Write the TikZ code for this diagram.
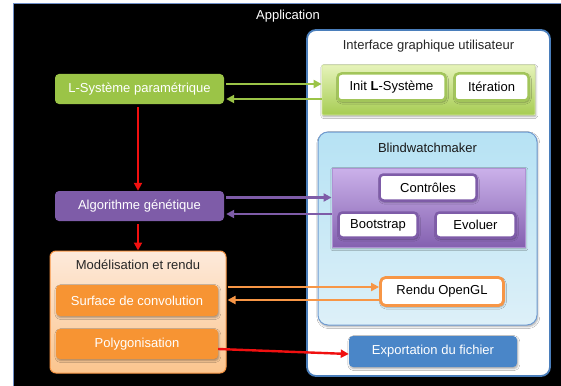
\documentclass[tikz,border=0pt]{standalone}
\usepackage{fontspec}
\setmainfont{Liberation Sans}
\usetikzlibrary{arrows.meta,shadows.blur}

\definecolor{frameblue}{HTML}{4A7EBB}
\definecolor{bgedge}{HTML}{6F8FC8}
\definecolor{titledark}{HTML}{262626}
\definecolor{lgreen}{HTML}{9BC447}
\definecolor{greentop}{HTML}{E6F3BA}
\definecolor{greenbot}{HTML}{A6CC52}
\definecolor{greenedge}{HTML}{A2C55A}
\definecolor{lpurple}{HTML}{7E5CA8}
\definecolor{purpletop}{HTML}{CBB1EA}
\definecolor{purplebot}{HTML}{8461B0}
\definecolor{bluetop}{HTML}{B6E2F4}
\definecolor{bluebot}{HTML}{DDF0F8}
\definecolor{blueedge}{HTML}{6F9BD1}
\definecolor{lorange}{HTML}{F79433}
\definecolor{orangetop}{HTML}{FDEADB}
\definecolor{orangebot}{HTML}{FBC58E}
\definecolor{orangeedge}{HTML}{F79646}
\definecolor{exportblue}{HTML}{4A86C8}
\definecolor{redline}{HTML}{F01010}

\begin{document}
\begin{tikzpicture}[x=1pt,y=-1pt,
  font=\fontsize{13}{15}\selectfont,
  softshadow/.style={blur shadow={shadow xshift=0.8pt,shadow yshift=-1.6pt,
      shadow blur radius=2pt,shadow opacity=35}},
  basebox/.style={rounded corners=4pt,inner sep=0pt,anchor=center},
  solidbox/.style={basebox,fill=#1,text=white,softshadow},
  whitebox/.style={basebox,fill=white,draw=#1,line width=2.5pt,text=black,softshadow},
  group/.style={inner sep=0pt,anchor=center},
  title/.style={inner sep=0pt,text=titledark},
  conn/.style={line width=2.4pt,draw=#1,-{Triangle[length=8pt,width=8pt]}},
]
\useasboundingbox (0,0) rectangle (561,385);

% backdrop of the application
\fill[white] (0,0) rectangle (561,385);
\draw[fill=black,draw=bgedge,line width=1pt] (13.5,3.5) rectangle (566,390);
\node[inner sep=0pt,text=white] (apptitle) at (288,16) {Application};

% user interface panel
\node[group,minimum width=243pt,minimum height=346pt,fill=white,draw=frameblue,
      line width=1.8pt,rounded corners=9pt] (gui) at (428.5,203) {};
\node[title] (guititle) at (428.5,46) {Interface graphique utilisateur};

% L-system controls
\node[group,minimum width=213pt,minimum height=50pt,top color=greentop,
      bottom color=greenbot,draw=greentop!70!greenbot,line width=0.8pt,
      rounded corners=1pt,softshadow] (greenbox) at (428.5,90) {};
\node[whitebox=greenedge,minimum width=108pt,minimum height=27pt] (init) at (391.5,87) {Init \textbf{L}-Système};
\node[whitebox=greenedge,minimum width=74pt,minimum height=27pt] (iter) at (491.5,87) {Itération};

% Blindwatchmaker
\node[group,minimum width=219pt,minimum height=193pt,top color=bluetop,
      bottom color=bluebot,draw=blueedge,line width=1pt,rounded corners=10pt,
      softshadow] (blind) at (427.5,228.5) {};
\node[title,text=black!90] (blindtitle) at (427.5,148) {Blindwatchmaker};
\node[group,minimum width=193pt,minimum height=79pt,top color=purpletop,
      bottom color=purplebot,draw=purpletop!60!purplebot,line width=0.8pt,
      softshadow] (purplebox) at (428.5,207.5) {};
\node[whitebox=lpurple,minimum width=97pt,minimum height=26pt] (ctrl) at (428,187.5) {Contrôles};
\node[whitebox=lpurple,minimum width=79pt,minimum height=25pt] (boot) at (378,225) {Bootstrap};
\node[whitebox=lpurple,minimum width=80pt,minimum height=25pt] (evol) at (475.5,225) {Evoluer};
\node[whitebox=orangeedge,minimum width=123pt,minimum height=28pt,
      rounded corners=5pt,line width=2.8pt] (rendu) at (442,291.5) {Rendu OpenGL};
\node[solidbox=exportblue,minimum width=168pt,minimum height=31pt] (export) at (433,351.5) {Exportation du fichier};

% left column
\node[solidbox=lgreen,minimum width=169pt,minimum height=30pt] (lsys) at (139.5,89) {L-Système paramétrique};
\node[solidbox=lpurple,minimum width=169pt,minimum height=30pt] (algo) at (139.5,206) {Algorithme génétique};
\node[group,minimum width=176pt,minimum height=122pt,top color=orangetop,
      bottom color=orangebot,draw=orangeedge,line width=1pt,
      rounded corners=6pt] (model) at (138,312) {};
\node[title] (modeltitle) at (138,265) {Modélisation et rendu};
\node[solidbox=lorange,minimum width=162pt,minimum height=31pt] (surf) at (137,300.5) {Surface de convolution};
\node[solidbox=lorange,minimum width=162pt,minimum height=30pt] (poly) at (137,344) {Polygonisation};

% connectors
\draw[conn=lgreen] ([yshift=5pt,xshift=2pt]lsys.east) -- ([yshift=5pt]lsys.east -| greenbox.west);
\draw[conn=lgreen] ([yshift=-10pt]lsys.east -| greenbox.west) -- ([yshift=-10pt,xshift=2pt]lsys.east);
\draw[conn=lpurple] ([yshift=8.5pt,xshift=2pt]algo.east) -- ([yshift=8.5pt]algo.east -| purplebox.west);
\draw[conn=lpurple] ([yshift=-8pt]algo.east -| purplebox.west) -- ([yshift=-8pt,xshift=2pt]algo.east);
\draw[conn=orangeedge] ([yshift=13.5pt,xshift=1pt]surf.east -| model.east) -- ([yshift=13.5pt]surf.east -| rendu.west);
\draw[conn=orangeedge] ([yshift=0.5pt]surf.east -| rendu.west) -- ([yshift=0.5pt,xshift=1pt]surf.east -| model.east);
\draw[conn=redline] ([yshift=-3pt,xshift=-1.5pt]lsys.south) -- ([xshift=-1.5pt]algo.north);
\draw[conn=redline] ([yshift=-3pt,xshift=-1.5pt]algo.south) -- (model.north);
\draw[conn=redline] ([yshift=-5pt]poly.east) -- ([yshift=-2.5pt]export.west);
\end{tikzpicture}
\end{document}
